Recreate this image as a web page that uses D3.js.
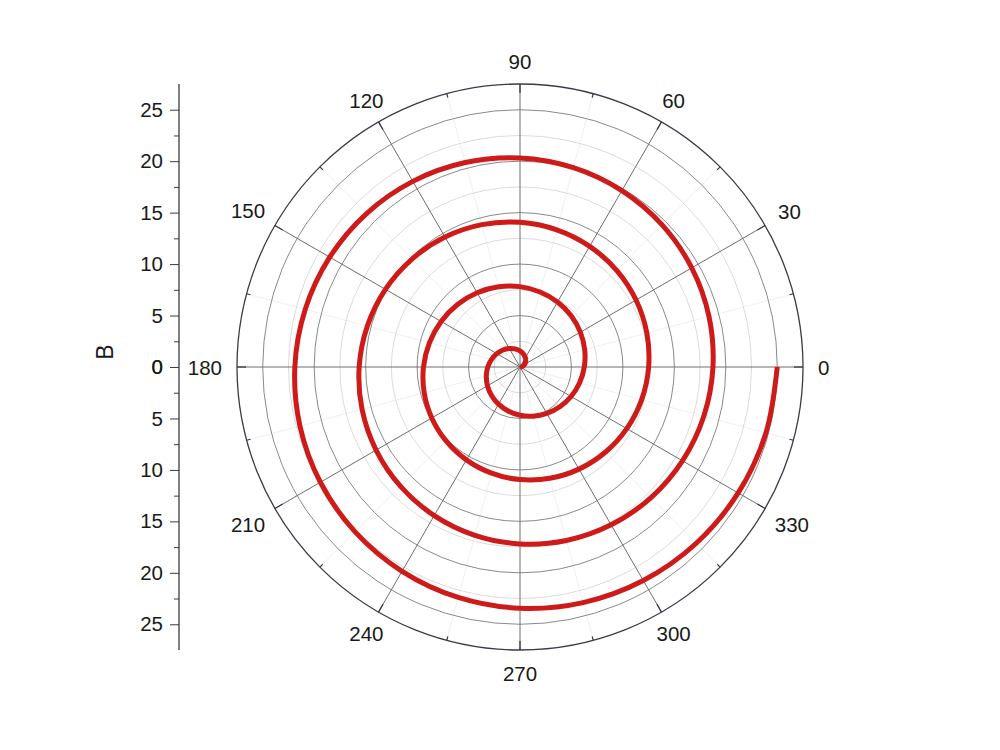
<!DOCTYPE html>
<html><head><meta charset="utf-8">
<script src="https://cdn.jsdelivr.net/npm/d3@7"></script>
<style>
html,body{margin:0;padding:0;background:#fff;}
svg{display:block;}
text{font-family:"Liberation Sans",Arial,Helvetica,sans-serif;fill:#1a1a1a;}
</style></head>
<body>
<script>
// Spiral data: angle (degrees) and radius B
const angles = [0,15,30,45,60,75,90,105,120,135,150,165,180,195,210,225,240,255,270,285,300,315,330,345,
360,375,390,405,420,435,450,465,480,495,510,525,540,555,570,585,600,615,630,645,660,675,690,705,
720,735,750,765,780,795,810,825,840,855,870,885,900,915,930,945,960,975,990,1005,1020,1035,1050,1065,
1080,1095,1110,1125,1140,1155,1170,1185,1200,1215,1230,1245,1260,1275,1290,1305,1320,1335,1350,1365,1380,1395,1410,1425,1440];
const radii = [0,0.26,0.52,0.78,1.04,1.30,1.56,1.82,2.08,2.34,2.60,2.86,3.13,3.39,3.65,3.91,4.17,4.43,4.69,4.95,5.21,5.47,5.73,5.99,
6.25,6.51,6.77,7.03,7.29,7.55,7.81,8.07,8.33,8.59,8.85,9.11,9.38,9.64,9.90,10.16,10.42,10.68,10.94,11.20,11.46,11.72,11.98,12.24,
12.50,12.76,13.02,13.28,13.54,13.80,14.06,14.32,14.58,14.84,15.10,15.36,15.63,15.89,16.15,16.41,16.67,16.93,17.19,17.45,17.71,17.97,18.23,18.49,
18.75,19.01,19.27,19.53,19.79,20.05,20.31,20.57,20.83,21.09,21.35,21.61,21.88,22.14,22.40,22.66,22.92,23.18,23.44,23.70,23.96,24.22,24.48,24.74,25.00];
const angleTickLabels = ["0","30","60","90","120","150","180","210","240","270","300","330"];
const angleTickValues = [0,30,60,90,120,150,180,210,240,270,300,330];
const radialTicks = [0,5,10,15,20,25];
const radialMinorTicks = [2.5,7.5,12.5,17.5,22.5];
const radialMax = 27.5;
const axisTitle = "B";

const W = 1000, H = 750;
const cx = 520, cy = 367, R = 283;

const svg = d3.select("body").append("svg").attr("width", W).attr("height", H);
const r = d3.scaleLinear().domain([0, radialMax]).range([0, R]);
const a = d3.scaleLinear().domain([0, 360]).range([0, 2 * Math.PI]);

const g = svg.append("g").attr("transform", `translate(${cx},${cy})`);
const pt = (deg, rad) => [rad * Math.cos(a(deg)), -rad * Math.sin(a(deg))];

// minor spokes (15 deg)
const minorAngles = d3.range(0, 360, 15).filter(d => d % 30 !== 0);
g.selectAll(".mspoke").data(minorAngles).enter().append("line")
  .attr("x1", 0).attr("y1", 0)
  .attr("x2", d => pt(d, R)[0]).attr("y2", d => pt(d, R)[1])
  .attr("stroke", "#f0f0f0").attr("stroke-width", 1);

// minor circles
g.selectAll(".mcirc").data(radialMinorTicks).enter().append("circle")
  .attr("r", d => r(d)).attr("fill", "none").attr("stroke", "#dcdcdc").attr("stroke-width", 1);
// major circles
g.selectAll(".Mcirc").data(radialTicks.filter(d => d > 0)).enter().append("circle")
  .attr("r", d => r(d)).attr("fill", "none").attr("stroke", "#8a8a8a").attr("stroke-width", 1);

// major spokes
g.selectAll(".spoke").data(angleTickValues).enter().append("line")
  .attr("x1", 0).attr("y1", 0)
  .attr("x2", d => pt(d, R)[0]).attr("y2", d => pt(d, R)[1])
  .attr("stroke", "#6e6e6e").attr("stroke-width", 1);

// outer circle
g.append("circle").attr("r", r(radialMax)).attr("fill", "none").attr("stroke", "#3a3a48").attr("stroke-width", 1.3);

// ticks on outer circle (inward)
g.selectAll(".otick").data(angleTickValues).enter().append("line")
  .attr("x1", d => pt(d, R - 9)[0]).attr("y1", d => pt(d, R - 9)[1])
  .attr("x2", d => pt(d, R)[0]).attr("y2", d => pt(d, R)[1])
  .attr("stroke", "#3a3a48").attr("stroke-width", 1.3);
g.selectAll(".omtick").data(minorAngles).enter().append("line")
  .attr("x1", d => pt(d, R - 4)[0]).attr("y1", d => pt(d, R - 4)[1])
  .attr("x2", d => pt(d, R)[0]).attr("y2", d => pt(d, R)[1])
  .attr("stroke", "#3a3a48").attr("stroke-width", 1.2);

// angle labels
const labelR = 298;
angleTickValues.forEach((d, i) => {
  const t = g.append("text").text(angleTickLabels[i])
    .attr("font-size", 20.5).attr("text-anchor", "middle").attr("dominant-baseline", "central");
  const bb = t.node().getBBox();
  const c = Math.cos(a(d)), s = Math.sin(a(d));
  const hw = bb.width / 2, hh = 8;
  const off = Math.min(Math.abs(c) > 1e-6 ? hw / Math.abs(c) : Infinity, Math.abs(s) > 1e-6 ? hh / Math.abs(s) : Infinity);
  const p = pt(d, labelR + off);
  t.attr("x", p[0]).attr("y", p[1]);
});

// spiral
const data = angles.map((d, i) => ({ang: d, rad: radii[i]}));
const line = d3.lineRadial()
  .angle(d => Math.PI / 2 - a(d.ang))
  .radius(d => r(d.rad))
  .curve(d3.curveCatmullRom.alpha(0.5));
g.append("path").datum(data).attr("d", line)
  .attr("fill", "none").attr("stroke", "#cf1a1a").attr("stroke-width", 5)
  .attr("stroke-linecap", "butt");

// left axis
const axX = 179;
const yTop = d3.scaleLinear().domain([0, radialMax]).range([cy, cy - R]);
const yBot = d3.scaleLinear().domain([0, radialMax]).range([cy, cy + R]);
const axG = svg.append("g").attr("transform", `translate(${axX},0)`);
[yTop, yBot].forEach(sc => {
  axG.append("g").call(d3.axisLeft(sc).tickValues(radialTicks).tickSize(9).tickPadding(7).tickFormat(d3.format("d")))
    .call(gg => { gg.select(".domain").remove(); gg.selectAll("text").attr("font-size", 20.5).attr("fill", "#1a1a1a").style("font-family", "Liberation Sans, Arial, sans-serif"); gg.selectAll("line").attr("stroke", "#3a3a48"); });
  axG.append("g").call(d3.axisLeft(sc).tickValues(radialMinorTicks).tickSize(5).tickFormat(""))
    .call(gg => { gg.select(".domain").remove(); gg.selectAll("line").attr("stroke", "#3a3a48"); });
});
axG.append("line").attr("x1", 0).attr("x2", 0).attr("y1", cy - R).attr("y2", cy + R)
  .attr("stroke", "#3a3a48").attr("stroke-width", 1.3);

svg.append("text").text(axisTitle).attr("font-size", 23)
  .attr("text-anchor", "middle")
  .attr("transform", `translate(113,352) rotate(-90)`);
</script>
</body></html>
